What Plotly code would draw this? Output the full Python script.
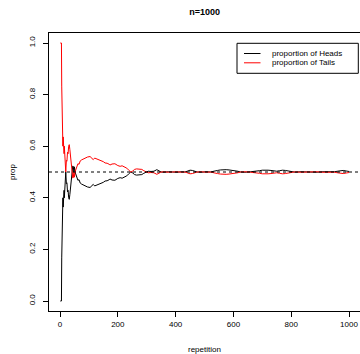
import plotly.graph_objects as go

# ---- data ----
repetition = [1, 5, 6, 7, 8, 9, 10, 11, 12, 13, 14, 15, 16, 17, 18, 19, 20, 22, 24, 26,
              28, 30, 32, 34, 36, 38, 40, 42, 44, 46, 48, 50, 52, 55, 58, 62, 66, 70, 75, 80,
              87, 95, 104, 110, 115, 120, 127, 133, 138, 145, 150, 156, 163, 170, 173, 180, 190, 200, 208, 215,
              225, 231, 237, 245, 252, 258, 265, 272, 283, 290, 297, 305, 315, 325, 335, 342, 350, 360, 375, 390,
              405, 420, 432, 440, 450, 458, 467, 475, 490, 505, 520, 535, 545, 555, 565, 575, 585, 595, 605, 615,
              625, 640, 660, 680, 690, 700, 710, 720, 730, 740, 750, 760, 770, 780, 790, 800, 815, 830, 850, 870,
              890, 910, 930, 950, 960, 970, 980, 990, 1000]

prop_heads = [0.0, 0.0, 0.167, 0.286, 0.25, 0.333, 0.4, 0.364, 0.417, 0.385, 0.429, 0.4, 0.438, 0.471, 0.5, 0.474, 0.5, 0.455, 0.458, 0.423,
              0.429, 0.4, 0.394, 0.412, 0.444, 0.474, 0.5, 0.5, 0.523, 0.522, 0.5, 0.52, 0.5, 0.491, 0.483, 0.468, 0.47, 0.457, 0.453, 0.45,
              0.448, 0.442, 0.44, 0.445, 0.452, 0.446, 0.449, 0.451, 0.453, 0.455, 0.46, 0.465, 0.466, 0.47, 0.473, 0.469, 0.468, 0.475, 0.478, 0.476,
              0.48, 0.485, 0.492, 0.5, 0.496, 0.49, 0.488, 0.489, 0.49, 0.495, 0.5, 0.503, 0.502, 0.503, 0.509, 0.506, 0.5, 0.499, 0.501, 0.5,
              0.499, 0.501, 0.5, 0.503, 0.507, 0.506, 0.502, 0.5, 0.499, 0.501, 0.5, 0.502, 0.506, 0.508, 0.509, 0.509, 0.508, 0.507, 0.506, 0.503,
              0.5, 0.499, 0.501, 0.502, 0.505, 0.507, 0.508, 0.507, 0.506, 0.504, 0.503, 0.505, 0.507, 0.506, 0.504, 0.501, 0.499, 0.501, 0.5, 0.501,
              0.499, 0.501, 0.5, 0.501, 0.503, 0.505, 0.506, 0.504, 0.502]

prop_tails = [1.0, 1.0, 0.833, 0.714, 0.75, 0.667, 0.6, 0.636, 0.583, 0.615, 0.571, 0.6, 0.562, 0.529, 0.5, 0.526, 0.5, 0.545, 0.542, 0.577,
              0.571, 0.6, 0.606, 0.588, 0.556, 0.526, 0.5, 0.5, 0.477, 0.478, 0.5, 0.48, 0.5, 0.509, 0.517, 0.532, 0.53, 0.543, 0.547, 0.55,
              0.552, 0.558, 0.56, 0.555, 0.548, 0.554, 0.551, 0.549, 0.547, 0.545, 0.54, 0.535, 0.534, 0.53, 0.527, 0.531, 0.532, 0.525, 0.522, 0.524,
              0.52, 0.515, 0.508, 0.5, 0.504, 0.51, 0.512, 0.511, 0.51, 0.505, 0.5, 0.497, 0.498, 0.497, 0.491, 0.494, 0.5, 0.501, 0.499, 0.5,
              0.501, 0.499, 0.5, 0.497, 0.493, 0.494, 0.498, 0.5, 0.501, 0.499, 0.5, 0.498, 0.494, 0.492, 0.491, 0.491, 0.492, 0.493, 0.494, 0.497,
              0.5, 0.501, 0.499, 0.498, 0.495, 0.493, 0.492, 0.493, 0.494, 0.496, 0.497, 0.495, 0.493, 0.494, 0.496, 0.499, 0.501, 0.499, 0.5, 0.499,
              0.501, 0.499, 0.5, 0.499, 0.497, 0.495, 0.494, 0.496, 0.498]

reference_level = 0.5
x_ticks = [0, 200, 400, 600, 800, 1000]
y_ticks = [0.0, 0.2, 0.4, 0.6, 0.8, 1.0]
y_tick_labels = ["0.0", "0.2", "0.4", "0.6", "0.8", "1.0"]
legend_labels = ["proportion of Heads", "proportion of Tails"]
series_colors = ["#000000", "#FF0000"]

FONT = "Liberation Sans, Arial, Helvetica, sans-serif"

# plot area in pixels
L, R, T, B = 49, 360, 33, 311
W, H = 360, 354
PW, PH = R - L, B - T


def px_x(px):
    return (px - L) / PW


def px_y(py):
    return (B - py) / PH


fig = go.Figure()
fig.add_trace(go.Scatter(x=repetition, y=prop_heads, mode="lines", name=legend_labels[0],
                         line=dict(color=series_colors[0], width=1), showlegend=False))
fig.add_trace(go.Scatter(x=repetition, y=prop_tails, mode="lines", name=legend_labels[1],
                         line=dict(color=series_colors[1], width=1), showlegend=False))

shapes = [
    dict(type="line", xref="paper", yref="y", x0=0, x1=1, y0=reference_level, y1=reference_level,
         line=dict(color="black", width=1, dash="3px,3px")),
    # legend box
    dict(type="rect", xref="paper", yref="paper", x0=px_x(237), x1=px_x(358.3), y0=px_y(73.3), y1=px_y(43.3),
         line=dict(color="black", width=1), fillcolor="white"),
]
annotations = []
legend_rows = [53.5, 62.8]
for lbl, col, ry in zip(legend_labels, series_colors, legend_rows):
    shapes.append(dict(type="line", xref="paper", yref="paper", x0=px_x(244), x1=px_x(260.5),
                       y0=px_y(ry), y1=px_y(ry), line=dict(color=col, width=1)))
    annotations.append(dict(xref="paper", yref="paper", x=px_x(269.5), y=px_y(ry), text=lbl,
                            showarrow=False, xanchor="left", yanchor="middle",
                            font=dict(family=FONT, size=8, color="black")))

annotations.append(dict(xref="paper", yref="paper", x=px_x(204.6), y=px_y(349), text="repetition",
                        showarrow=False, xanchor="center", yanchor="middle",
                        font=dict(family=FONT, size=8, color="black")))
annotations.append(dict(xref="paper", yref="paper", x=px_x(12), y=px_y(172), text="prop",
                        showarrow=False, xanchor="center", yanchor="middle", textangle=-90,
                        font=dict(family=FONT, size=8, color="black")))

fig.update_layout(
    width=W, height=H,
    margin=dict(l=L, r=W - R, t=T, b=H - B, pad=0, autoexpand=False),
    paper_bgcolor="white", plot_bgcolor="white",
    title=dict(text="<b>n=1000</b>", x=px_x(204.6), xref="paper", xanchor="center",
               y=1 - 12 / H, yref="container", yanchor="middle",
               font=dict(family=FONT, size=9, color="black")),
    shapes=shapes, annotations=annotations,
    font=dict(family=FONT, size=8, color="black"),
)

x0v, x1v = 0, 1000
ppu = (349 - 60) / (x1v - x0v)
fig.update_xaxes(range=[x0v - (60 - L) / ppu, x0v + (R - 60) / ppu], automargin=False,
                 tickvals=x_ticks, ticks="outside", ticklen=5, tickcolor="black", tickwidth=1,
                 showline=True, linecolor="black", linewidth=1, mirror=True,
                 showgrid=False, zeroline=False,
                 tickfont=dict(family=FONT, size=8, color="black"))
ppy = (301 - 43) / 1.0
fig.update_yaxes(range=[0 - (B - 301) / ppy, 1 + (43 - T) / ppy], automargin=False,
                 tickvals=y_ticks, ticktext=y_tick_labels, ticks="outside", ticklen=5,
                 tickcolor="black", tickwidth=1, tickangle=-90, ticklabelstandoff=5,
                 showline=True, linecolor="black", linewidth=1, mirror=False,
                 showgrid=False, zeroline=False,
                 tickfont=dict(family=FONT, size=8, color="black"))

fig.write_html("out.html", config={"displayModeBar": False},
               post_script="document.body.style.margin='0';document.body.style.overflow='hidden';")
